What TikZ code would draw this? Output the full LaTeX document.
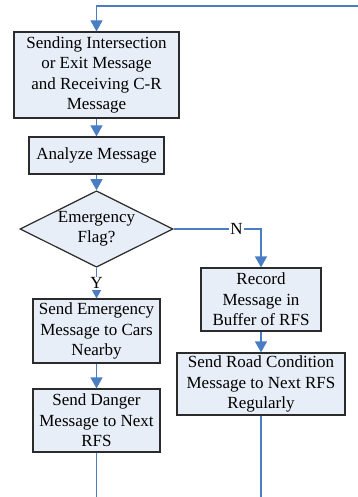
\documentclass[tikz,border=0pt]{standalone}
\usepackage{fontspec}
\setmainfont{Liberation Serif}
\usepackage{xcolor}
\usetikzlibrary{shapes.geometric,arrows.meta}

\definecolor{flowblue}{HTML}{4A7EC4}
\definecolor{boxfill}{HTML}{E8EEF7}
\definecolor{boxline}{HTML}{2B2B2B}

\tikzset{
    box/.style={draw=boxline, fill=boxfill, line width=1.2pt, inner sep=0pt,
        align=center, font=\fontsize{17}{20.5}\selectfont},
    decision/.style={box, shape=diamond, inner sep=-9pt,
        minimum width=153pt, minimum height=64pt},
    flow/.style={draw=flowblue, line width=1.2pt,
        -{Triangle[width=12pt,length=11pt]}},
    plainflow/.style={draw=flowblue, line width=1.2pt},
    lbl/.style={fill=white, inner sep=1pt, font=\fontsize{17}{20}\selectfont}
}

\begin{document}
\begin{tikzpicture}[x=1pt,y=-1pt]
            \useasboundingbox (0,0) rectangle (358,497);
            \node[box, minimum width=165pt, minimum height=86pt] (send) at (96.5,75)
                {Sending Intersection\\or Exit Message\\and Receiving C-R\\Message};
            \node[box, minimum width=135pt, minimum height=37pt] (analyze) at (96.5,155.5) {Analyze Message};
            \node[decision] (flag) at (96.5,229) {Emergency\\Flag?};
            \node[box, minimum width=127pt, minimum height=64pt] (emerg) at (96.5,331) {Send Emergency\\Message to Cars\\Nearby};
            \node[box, minimum width=127pt, minimum height=63pt] (danger) at (96.5,420.5) {Send Danger\\Message to Next\\RFS};
            \node[box, minimum width=120pt, minimum height=63pt] (record) at (261,299.5) {Record\\Message in\\Buffer of RFS};
            \node[box, minimum width=168pt, minimum height=62pt] (road) at (261,384) {Send Road Condition\\Message to Next RFS\\Regularly};
            \coordinate (loopin) at (358,6);
            \coordinate (outleft) at (96.5,497);
            \coordinate (outright) at (261,497);
            \draw[flow] (loopin) -| (send.north);
            \draw[flow] (send) -- (analyze);
            \draw[flow] (analyze) -- (flag);
            \draw[flow] (flag.south) -- node[lbl] {Y} (emerg.north);
            \draw[flow] (flag.east) -| node[lbl, pos=0.36] {N} (record.north);
            \draw[flow] (emerg) -- (danger);
            \draw[flow] (record) -- (road);
            \draw[plainflow] (danger) -- (outleft);
            \draw[plainflow] (road) -- (outright);
        \end{tikzpicture}
\end{document}
